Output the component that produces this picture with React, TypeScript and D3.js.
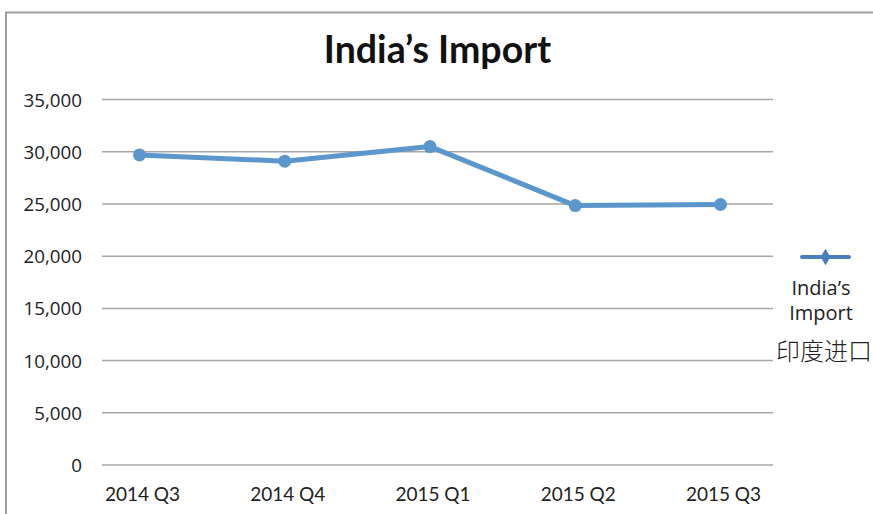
import React from "react";
import * as d3 from "d3";

const categories = ["2014 Q3", "2014 Q4", "2015 Q1", "2015 Q2", "2015 Q3"];
const importValues = [29700, 29100, 30500, 24850, 24950];
const yTicks = [0, 5000, 10000, 15000, 20000, 25000, 30000, 35000];
const titleText = "India\u2019s Import";
const legendLines = ["India\u2019s", "Import", "印度进口"];

const W = 873;
const H = 514;

export default function App() {
  const y = d3.scaleLinear().domain([0, 35000]).range([465, 99.6]);
  const x = d3.scalePoint<string>().domain(categories).range([139.5, 720.5]);
  const gridX0 = 102;
  const gridX1 = 773;
  const fmt = d3.format(",");
  const line = d3
    .line<number>()
    .x((_, i) => x(categories[i]) as number)
    .y((d) => y(d));

  const lineColor = "#5B97CC";
  const legendColor = "#4A7EBB";

  return (
    <svg
      width={W}
      height={H}
      style={{ position: "absolute", left: 0, top: 0, background: "#fff" }}
    >
      <path
        d={`M6,${H + 5} L6,12.5 L${W + 5},12.5`}
        fill="none"
        stroke="#A0A0A0"
        strokeWidth={2}
      />
      <text
        x={437.5}
        y={63}
        textAnchor="middle"
        fontFamily="Lato, 'Open Sans', sans-serif"
        fontWeight={700}
        fontSize={37.5}
        fill="#111"
      >
        {titleText}
      </text>
      {yTicks.map((t) => (
        <g key={t}>
          <line
            x1={gridX0}
            x2={gridX1}
            y1={y(t)}
            y2={y(t)}
            stroke="#A6A6A6"
            strokeWidth={1.5}
          />
          <text
            x={82}
            y={y(t)}
            textAnchor="end"
            dominantBaseline="central"
            fontFamily="'Open Sans', sans-serif"
            fontSize={18.8}
            fill="#222"
          >
            {fmt(t)}
          </text>
        </g>
      ))}
      {categories.map((c) => (
        <text
          key={c}
          x={(x(c) as number) + 3}
          y={493}
          textAnchor="middle"
          dominantBaseline="central"
          fontFamily="Lato, 'Open Sans', sans-serif"
          fontSize={19}
          fill="#222"
        >
          {c}
        </text>
      ))}
      <path
        d={line(importValues) || ""}
        fill="none"
        stroke={lineColor}
        strokeWidth={5}
        strokeLinejoin="round"
      />
      {importValues.map((v, i) => (
        <circle
          key={i}
          cx={x(categories[i]) as number}
          cy={y(v)}
          r={6.5}
          fill={lineColor}
        />
      ))}
      <g>
        <line
          x1={802}
          x2={849}
          y1={257}
          y2={257}
          stroke={legendColor}
          strokeWidth={4}
          strokeLinecap="round"
        />
        <path
          d={d3.symbol().type(d3.symbolDiamond).size(80)() || ""}
          transform="translate(825.5,257)"
          fill={legendColor}
        />
        <text
          x={821}
          y={287}
          textAnchor="middle"
          dominantBaseline="central"
          fontFamily="'Open Sans', sans-serif"
          fontSize={20}
          fill="#222"
        >
          {legendLines[0]}
        </text>
        <text
          x={821}
          y={312}
          textAnchor="middle"
          dominantBaseline="central"
          fontFamily="'Open Sans', sans-serif"
          fontSize={20}
          fill="#222"
        >
          {legendLines[1]}
        </text>
        <text
          x={824}
          y={349}
          textAnchor="middle"
          dominantBaseline="central"
          fontFamily="'Noto Sans CJK SC', sans-serif"
          fontSize={24}
          fontWeight={300}
          fill="#222"
        >
          {legendLines[2]}
        </text>
      </g>
    </svg>
  );
}
